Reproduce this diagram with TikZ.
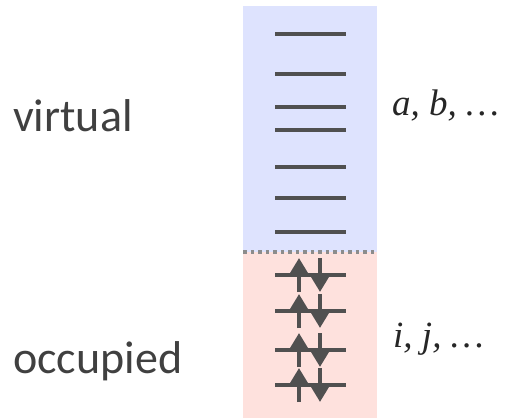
\documentclass[tikz,border=0pt]{standalone}
\usepackage{fontspec}
\setmainfont{Liberation Serif}
\newfontfamily\labelfont{Carlito}
\usetikzlibrary{arrows.meta}
\definecolor{virtfill}{RGB}{222,227,254}
\definecolor{occfill}{RGB}{254,225,221}
\definecolor{levelgray}{RGB}{80,80,80}
\definecolor{textgray}{RGB}{64,64,64}
\definecolor{dotgray}{RGB}{140,140,140}
\tikzset{
  level/.style={draw=levelgray, line width=4.5pt},
  spin/.style={draw=levelgray, line width=4.5pt, -{Triangle[length=16pt,width=18pt]}},
  sidelabel/.style={text=textgray, font=\labelfont\fontsize{46}{52}\selectfont, anchor=base west, inner sep=0pt},
  indexlabel/.style={text=black!85, font=\itshape\fontsize{37}{42}\selectfont, anchor=base west, inner sep=0pt},
}
\begin{document}
\begin{tikzpicture}[x=1pt,y=-1pt]
\useasboundingbox (0,0) rectangle (505,419);
\fill[virtfill] (243,6) rectangle (377,252);
\fill[occfill] (243,252) rectangle (377,418);
\coordinate (divL) at (243,252);
\coordinate (divR) at (377,252);
\draw[dotgray, line width=3.5pt, dash pattern=on 3.5pt off 4pt] (divL) -- (divR);
% virtual levels
\foreach \y [count=\k] in {34,74,107,130,167,198,232} {
  \coordinate (v\k L) at (275,\y);
  \coordinate (v\k R) at (346,\y);
  \draw[level] (v\k L) -- (v\k R);
}
% occupied levels with paired spins
\foreach \y [count=\k] in {275,311,350,385} {
  \coordinate (o\k L) at (275,\y);
  \coordinate (o\k R) at (346,\y);
  \draw[level] (o\k L) -- (o\k R);
  \coordinate (u\k b) at (299,\y+17);
  \coordinate (u\k t) at (299,\y-17);
  \coordinate (d\k t) at (320,\y-17);
  \coordinate (d\k b) at (320,\y+17);
  \draw[spin] (u\k b) -- (u\k t);
  \draw[spin] (d\k t) -- (d\k b);
}
\node[sidelabel] (virt) at (13,132) {virtual};
\node[sidelabel] (occ) at (13,373) {occupied};
\node[indexlabel] (ab) at (392,116) {a, b, \dots};
\node[indexlabel] (ij) at (393,347) {i, j, \dots};
\end{tikzpicture}
\end{document}
